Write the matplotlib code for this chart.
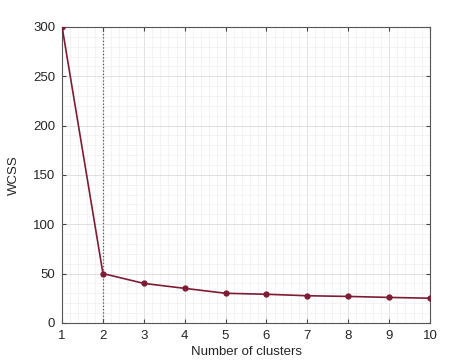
import matplotlib.pyplot as plt
from matplotlib.ticker import AutoMinorLocator

# Elbow curve data
clusters = [1, 2, 3, 4, 5, 6, 7, 8, 9, 10]
wcss = [300, 50, 40, 35, 30, 29, 27.5, 26.8, 25.8, 25]
elbow_k = 2

plt.rcParams['font.family'] = ['Liberation Sans', 'DejaVu Sans']

fig = plt.figure(figsize=(4.74, 3.64), dpi=100)
ax = fig.add_axes([0.131, 0.113, 0.776, 0.813])

ax.plot(clusters, wcss, color='#7d1c34', linewidth=1.2, marker='o',
        markersize=3.5, zorder=3)
ax.axvline(elbow_k, color='#555555', linestyle=':', linewidth=0.9, zorder=2)

ax.set_xlim(1, 10)
ax.set_ylim(0, 300)
ax.set_xticks(clusters)
ax.set_yticks(range(0, 301, 50))
ax.xaxis.set_minor_locator(AutoMinorLocator(5))
ax.yaxis.set_minor_locator(AutoMinorLocator(5))
ax.grid(which='major', color='#dcdcdc', linewidth=0.6)
ax.grid(which='minor', color='#efefef', linewidth=0.5)
ax.set_axisbelow(True)

ax.tick_params(which='major', direction='in', length=3, top=True, right=True,
               labelsize=9.5, color='#444444', labelcolor='#262626', pad=5)
ax.tick_params(which='minor', length=0)
for s in ax.spines.values():
    s.set_color('#555555')
    s.set_linewidth(0.8)

ax.set_xlabel('Number of clusters', fontsize=9.5, color='#262626', labelpad=3)
ax.set_ylabel('WCSS', fontsize=9.5, color='#262626', labelpad=9)

fig.savefig('out.png', dpi=100, facecolor='white')
